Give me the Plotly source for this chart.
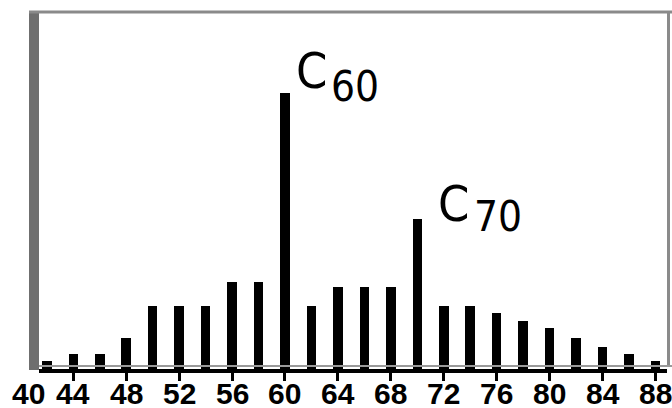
import plotly.graph_objects as go

# Data: cluster size (number of carbon atoms) vs relative intensity
cluster_size = [42, 44, 46, 48, 50, 52, 54, 56, 58, 60, 62, 64, 66, 68,
                70, 72, 74, 76, 78, 80, 82, 84, 86, 88]
intensity = [2.9, 5.4, 5.4, 11.2, 22.8, 22.8, 22.8, 31.5, 31.5, 100.0, 22.8, 29.7, 29.7, 29.7,
             54.3, 22.8, 22.8, 20.3, 17.4, 14.9, 11.2, 8.0, 5.4, 2.9]
tick_vals = [44, 48, 52, 56, 60, 64, 68, 72, 76, 80, 84, 88]
tick_text = [str(v) for v in tick_vals]
first_label = "40"

W, H = 672, 408
L, R, T, B = 39, 5, 12, 39
pw, ph = W - L - R, H - T - B

def px(x):
    return (x - L) / pw

def py(y):
    return (H - B - y) / ph

FONT = "Liberation Sans, Arial, sans-serif"
NARROW = "DejaVu Sans Condensed, Liberation Sans, sans-serif"
tick_font = dict(family=FONT, size=30, color="black", weight="bold")

fig = go.Figure()
fig.add_trace(go.Bar(
    x=cluster_size, y=intensity, width=0.72,
    marker=dict(color="black", line=dict(width=0)),
))

fig.update_layout(
    width=W, height=H,
    margin=dict(l=L, r=R, t=T, b=B, autoexpand=False),
    paper_bgcolor="white", plot_bgcolor="white",
    showlegend=False,
    bargap=0,
    xaxis=dict(
        range=[41.41, 88.87],
        tickmode="array", tickvals=tick_vals, ticktext=tick_text,
        showticklabels=False,
        ticks="outside", ticklen=8, tickwidth=3, tickcolor="black",
        showline=True, linecolor="black", linewidth=4,
        showgrid=False, zeroline=False, automargin=False,
        fixedrange=True,
    ),
    yaxis=dict(
        range=[0, 129.3],
        showticklabels=False, ticks="", showgrid=False, zeroline=False,
        showline=False, fixedrange=True, automargin=False,
    ),
    shapes=[
        # left thick gray border
        dict(type="rect", xref="paper", yref="paper",
             x0=px(29), x1=px(39), y0=py(370), y1=py(11),
             fillcolor="#6f6f6f", line=dict(width=0), layer="above"),
        # top gray border
        dict(type="line", xref="paper", yref="paper",
             x0=px(29), x1=px(672), y0=py(12), y1=py(12),
             line=dict(color="#8a8a8a", width=3)),
        # right gray border
        dict(type="line", xref="paper", yref="paper",
             x0=px(668.5), x1=px(668.5), y0=py(367), y1=py(12),
             line=dict(color="#8a8a8a", width=3)),
        # gray fringe above axis line
        dict(type="line", xref="paper", yref="paper",
             x0=px(39), x1=px(672), y0=py(366), y1=py(366),
             line=dict(color="#9a9a9a", width=2)),
    ],
)

label_font_big = dict(family=NARROW, size=50, color="black")
label_font_sub = dict(family=NARROW, size=42, color="black")
ann = [
    dict(text="C", x=px(311), y=py(71.5), font=label_font_big),
    dict(text="60", x=px(354.5), y=py(86), font=label_font_sub),
    dict(text="C", x=px(453.5), y=py(204), font=label_font_big),
    dict(text="70", x=px(497.5), y=py(216.5), font=label_font_sub),
]
for a in ann:
    fig.add_annotation(xref="paper", yref="paper", xanchor="center", yanchor="middle",
                       showarrow=False, **a)

# tick labels (placed on the x scale)
for v, t in zip(tick_vals, tick_text):
    fig.add_annotation(text=t, xref="x", yref="paper", x=v, y=py(393),
                       xanchor="center", yanchor="middle", showarrow=False, font=tick_font)

fig.add_annotation(text=first_label, xref="paper", yref="paper",
                   x=px(28), y=py(393), xanchor="center", yanchor="middle", showarrow=False,
                   font=tick_font)

fig.write_html("out.html", config={"displayModeBar": False},
               post_script="document.body.style.margin='0';")
